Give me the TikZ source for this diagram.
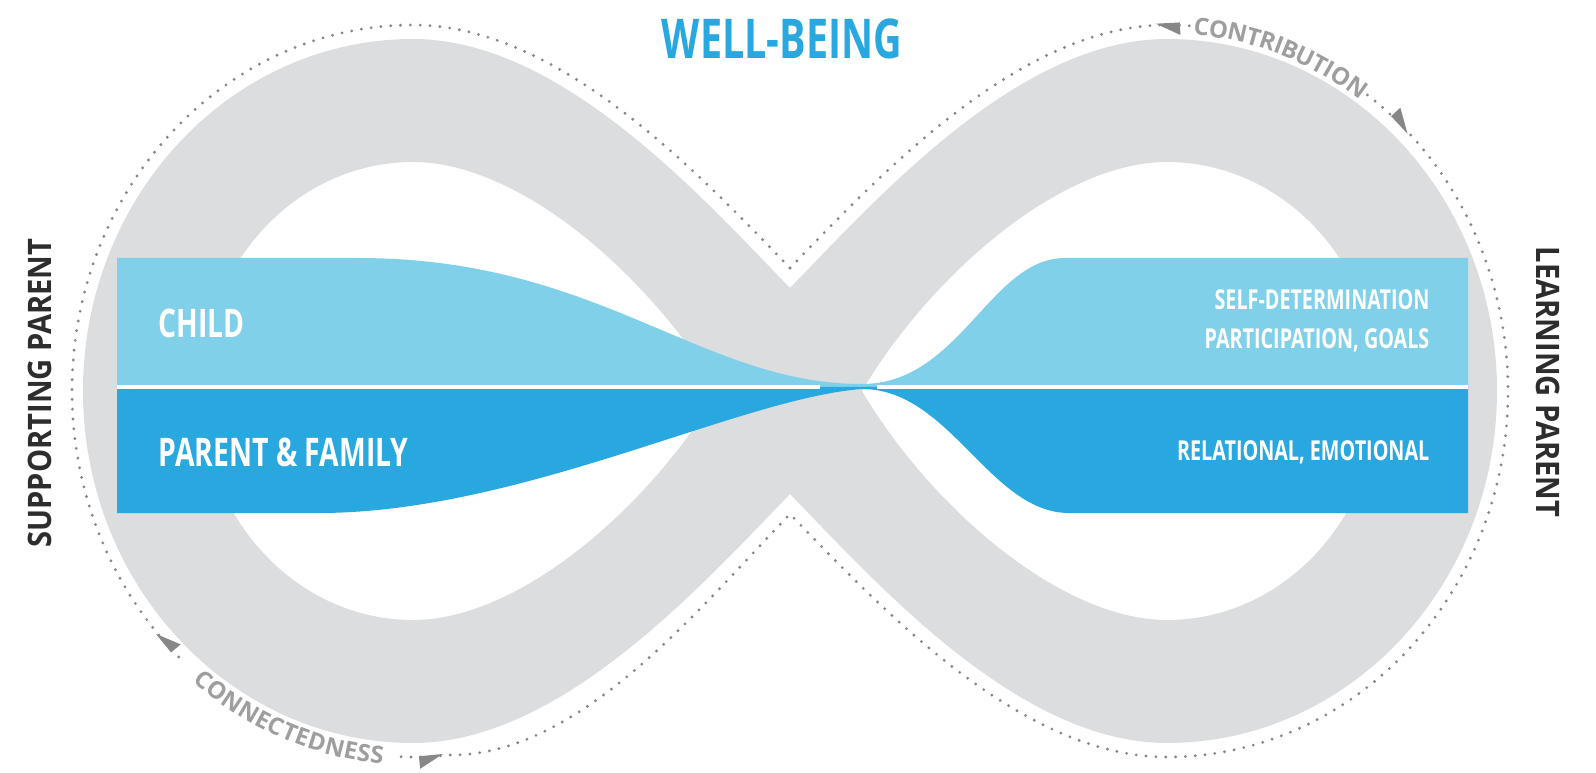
\documentclass[tikz,border=0pt]{standalone}
\usepackage{fontspec}
\usetikzlibrary{arrows.meta, calc, decorations.text, decorations.markings}

\newfontfamily\condfont[FakeStretch=0.72]{Open Sans}
\newfontfamily\sidefont[FakeStretch=0.9]{Open Sans}
\newfontfamily\arcfont{Open Sans}
\newcommand{\arcstyle}{\arcfont\bfseries\fontsize{6.8}{8}\selectfont\color{arcgray}}

\definecolor{bandgray}{RGB}{220,221,223}
\definecolor{childblue}{RGB}{128,208,234}
\definecolor{familyblue}{RGB}{41,168,224}
\definecolor{dotgray}{RGB}{135,135,135}
\definecolor{arcgray}{RGB}{158,158,158}
\definecolor{sidegray}{RGB}{45,45,45}

\tikzset{
	ftip/.tip={Triangle[harpoon, length=6pt, width=6pt]},
	fswap/.tip={Triangle[harpoon, swap, length=6pt, width=6pt]},
}

\begin{document}
\begin{tikzpicture}[
		x=0.01cm, y=-0.01cm,
		lobe/.style={fill=bandgray, even odd rule},
		dots/.style={draw=dotgray, line width=0.9pt, line cap=round, dash pattern=on 0pt off 2.8pt},
		arctext/.style={decorate, decoration={text along path, text={|\arcstyle|#1}, text align=center, raise=-2.4pt}},
		bandlabel/.style={text=white, inner sep=0pt, font=\condfont\bfseries\fontsize{11.2}{13}\selectfont},
		smalllabel/.style={text=white, inner sep=0pt, align=right, font=\condfont\bfseries\fontsize{7.8}{11}\selectfont},
		sidelabel/.style={text=sidegray, inner sep=0pt, font=\sidefont\bfseries\fontsize{9.2}{11}\selectfont},
	]
	\useasboundingbox (0,0) rectangle (1596,773);

	\coordinate (lc) at (413,391);
	\coordinate (rc) at (1167,391);
	\coordinate (ntop) at (790,268);
	\coordinate (nbot) at (790,514);

	% grey figure of eight
	\path[lobe] (790,288) .. controls (700,195) and (560,39) .. (413,39)
		arc[start angle=-90, end angle=-270, x radius=330, y radius=352]
		.. controls (560,743) and (700,587) .. (790,494)
		.. controls (880,587) and (1020,743) .. (1167,743)
		arc[start angle=90, end angle=-90, x radius=330, y radius=352]
		.. controls (1020,39) and (880,195) .. (790,288) -- cycle
		(413,162) .. controls (296,162) and (201,265) .. (201,391)
		.. controls (201,517) and (296,620) .. (413,620)
		.. controls (520,620) and (650,506) .. (718,391)
		.. controls (650,276) and (520,162) .. (413,162) -- cycle
		(1167,162) .. controls (1284,162) and (1379,265) .. (1379,391)
		.. controls (1379,517) and (1284,620) .. (1167,620)
		.. controls (1060,620) and (930,506) .. (862,391)
		.. controls (930,276) and (1060,162) .. (1167,162) -- cycle;

	% dotted outline
	\draw[dots, postaction={decorate, decoration={markings, mark=at position -10pt with {\arrowreversed{ftip}}}}]
		(ntop) .. controls (700,175) and (560,25) .. (413,25)
		arc[start angle=-90, end angle=-227, x radius=341, y radius=366];
	\path[arctext=CONNECTEDNESS] ($(lc)+(-229:341 and 366)$)
		arc[start angle=-229, end angle=-267, x radius=341, y radius=366];
	\draw[dots, postaction={decorate, decoration={markings, mark=at position 12pt with {\arrow{fswap}}}}]
		($(lc)+(-268:341 and 366)$) arc[start angle=-268, end angle=-276, x radius=341, y radius=366]
		.. controls (580,757) and (700,607) .. (nbot);

	\draw[dots, postaction={decorate, decoration={markings, mark=at position -10pt with {\arrowreversed{fswap}}}}]
		(ntop) .. controls (880,175) and (1020,25) .. (1167,25)
		arc[start angle=-90, end angle=-86, x radius=341, y radius=366];
	\path[arctext=CONTRIBUTION] ($(rc)+(-85:341 and 366)$)
		arc[start angle=-85, end angle=-55, x radius=341, y radius=366];
	\draw[dots, postaction={decorate, decoration={markings, mark=at position 16pt with {\arrow{ftip}}}}]
		($(rc)+(-54:341 and 366)$) arc[start angle=-54, end angle=90, x radius=341, y radius=366]
		.. controls (1020,757) and (880,607) .. (nbot);

	% blue bands
	\fill[childblue] (117,258) -- (358,258) .. controls (600,258) and (700,384) .. (862,384)
		.. controls (960,384) and (990,258) .. (1065,258) -- (1468,258) -- (1468,387) -- (117,387) -- cycle;
	\fill[familyblue] (117,387) -- (1468,387) -- (1468,513) -- (1069,513)
		.. controls (990,513) and (950,389) .. (862,389)
		.. controls (740,398) and (520,513) .. (319,513) -- (117,513) -- cycle;
	\draw[white, line width=1.1pt] (117,387) -- (820,387) (877,387) -- (1468,387);

	% labels
	\node[font=\condfont\bfseries\fontsize{15.6}{18}\selectfont, text=familyblue, inner sep=0pt] (wellbeing) at (782,39) {WELL-BEING};
	\node[bandlabel, anchor=west] (child) at (158,323) {CHILD};
	\node[bandlabel, anchor=west] (family) at (158,452) {PARENT \& FAMILY};
	\node[smalllabel, anchor=east] (goals) at (1430,321) {SELF-DETERMINATION\\PARTICIPATION, GOALS};
	\node[smalllabel, anchor=east] (relational) at (1430,452) {RELATIONAL, EMOTIONAL};
	\node[sidelabel, rotate=90] (supporting) at (40,393) {SUPPORTING PARENT};
	\node[sidelabel, rotate=-90] (learning) at (1548,382) {LEARNING PARENT};
\end{tikzpicture}
\end{document}
